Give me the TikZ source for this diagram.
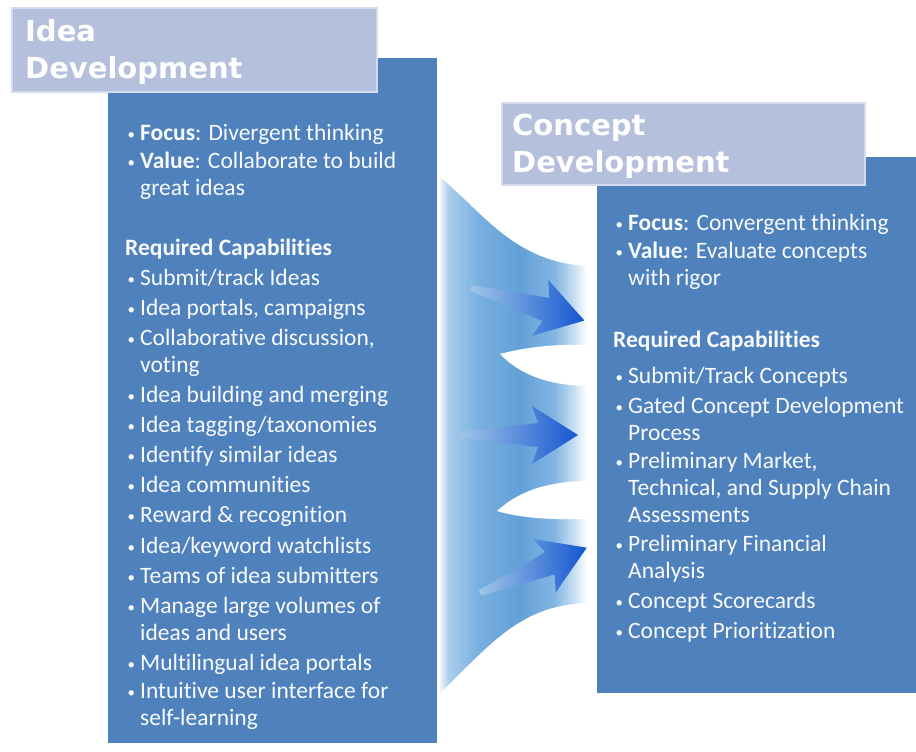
\documentclass[tikz,border=0pt]{standalone}
\usepackage{fontspec}
\setmainfont{Carlito}[Ligatures=NoCommon]
\newfontfamily\headfont{DejaVu Sans}
\usepackage{tikz}

\definecolor{boxblue}{RGB}{79,129,189}
\definecolor{headfill}{RGB}{180,192,220}
\definecolor{headline}{RGB}{212,220,236}
\definecolor{rbwhite}{RGB}{240,246,252}
\definecolor{rbpale}{RGB}{170,205,235}
\definecolor{rblight}{RGB}{120,176,224}
\definecolor{rbmid}{RGB}{98,160,216}
\definecolor{rbfade}{RGB}{130,182,226}
\definecolor{rbend}{RGB}{205,226,244}
\definecolor{arrowblue}{RGB}{20,86,208}

\pgfdeclarehorizontalshading{ribbon}{100bp}{color(0bp)=(white); color(25bp)=(rbwhite);
  color(28bp)=(rbpale); color(38bp)=(rblight); color(52bp)=(rbmid); color(64bp)=(rbfade);
  color(71bp)=(rbend); color(75bp)=(white); color(100bp)=(white)}

\newcommand{\bul}{\llap{\raisebox{1pt}{\fontsize{15}{15}\selectfont\textbullet}\hspace{5pt}}}

\tikzset{
  panel/.style={fill=boxblue},
  headbox/.style={fill=headfill, draw=headline, line width=1.2pt},
  headtext/.style={anchor=base west, align=left, inner sep=0pt, text=white,
    font=\headfont\bfseries\fontsize{29}{37}\selectfont},
  body/.style={anchor=base west, align=left, inner sep=0pt, text=white!96!boxblue,
    font=\fontsize{23.5}{27}\selectfont},
  flow/.style={left color=rbmid!60!white, right color=arrowblue},
}

\begin{document}
\begin{tikzpicture}[x=1pt, y=-1pt]
  \useasboundingbox (0,0) rectangle (916,752);

  % ribbon between the two panels
  \shade[shading=ribbon] (440,177) .. controls (485,215) and (515,262) .. (587,266)
    -- (587,603) .. controls (520,605) and (490,645) .. (440,693) -- cycle;
  \fill[white] (500,354) .. controls (530,346) and (560,344) .. (590,345)
    -- (590,386) .. controls (550,386) and (520,375) .. (500,354);
  \fill[white] (497,511) .. controls (520,490) and (550,481) .. (590,481)
    -- (590,519) .. controls (550,520) and (520,518) .. (497,511);

  % arrows
  \begin{scope}[shift={(471,288)}, rotate=-16]
    \shade[flow] (0,3) -- (78,12) -- (72,29) -- (118,0) -- (72,-29) -- (78,-12) -- (0,-3) -- cycle;
  \end{scope}
  \begin{scope}[shift={(460,435)}, rotate=0]
    \shade[flow] (0,3) -- (78,12) -- (72,29) -- (118,0) -- (72,-29) -- (78,-12) -- (0,-3) -- cycle;
  \end{scope}
  \begin{scope}[shift={(480,593)}, rotate=23]
    \shade[flow] (0,3) -- (76,12) -- (70,29) -- (116,0) -- (70,-29) -- (76,-12) -- (0,-3) -- cycle;
  \end{scope}

  % panels
  \fill[panel] (108,58) rectangle (437,743);
  \fill[panel] (597,157) rectangle (916,693);
  \draw[headbox] (12,8) rectangle (377,92);
  \draw[headbox] (502,103) rectangle (865,185);

  % headings (anchor is the last line's baseline)
  \node[headtext] (ideahead) at (25,79) {Idea\\Development};
  \node[headtext] (concepthead) at (512,172) {Concept\\Development};

  % idea development
  \node[body] (lfocus) at (140,140) {\bul\textbf{Focus}: Divergent thinking};
  \node[body] (lvalue) at (140,195) {\bul\textbf{Value}: Collaborate to build\\great ideas};
  \node[body] (lreq) at (125,255) {\textbf{Required Capabilities}};
  \node[body] (lc1) at (140,285) {\bul Submit/track Ideas};
  \node[body] (lc2) at (140,315) {\bul Idea portals, campaigns};
  \node[body] (lc3) at (140,372) {\bul Collaborative discussion,\\voting};
  \node[body] (lc4) at (140,402) {\bul Idea building and merging};
  \node[body] (lc5) at (140,432) {\bul Idea tagging/taxonomies};
  \node[body] (lc6) at (140,462) {\bul Identify similar ideas};
  \node[body] (lc7) at (140,492) {\bul Idea communities};
  \node[body] (lc8) at (140,522) {\bul Reward \& recognition};
  \node[body] (lc9) at (140,553) {\bul Idea/keyword watchlists};
  \node[body] (lc10) at (140,583) {\bul Teams of idea submitters};
  \node[body] (lc11) at (140,640) {\bul Manage large volumes of\\ideas and users};
  \node[body] (lc12) at (140,670) {\bul Multilingual idea portals};
  \node[body] (lc13) at (140,725) {\bul Intuitive user interface for\\self-learning};

  % concept development
  \node[body] (rfocus) at (628,230) {\bul\textbf{Focus}: Convergent thinking};
  \node[body] (rvalue) at (628,285) {\bul\textbf{Value}: Evaluate concepts\\with rigor};
  \node[body] (rreq) at (613,347) {\textbf{Required Capabilities}};
  \node[body] (rc1) at (628,383) {\bul Submit/Track Concepts};
  \node[body] (rc2) at (628,440) {\bul Gated Concept Development\\Process};
  \node[body] (rc3) at (628,522) {\bul Preliminary Market,\\Technical, and Supply Chain\\Assessments};
  \node[body] (rc4) at (628,578) {\bul Preliminary Financial\\Analysis};
  \node[body] (rc5) at (628,608) {\bul Concept Scorecards};
  \node[body] (rc6) at (628,638) {\bul Concept Prioritization};
\end{tikzpicture}
\end{document}
